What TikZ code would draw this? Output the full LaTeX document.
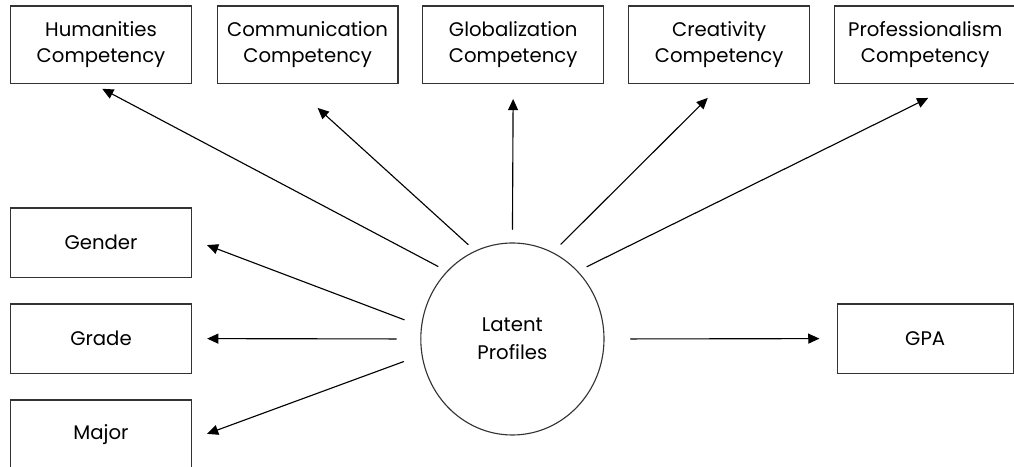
\documentclass[tikz,border=0pt]{standalone}
\usepackage{fontspec}
\setmainfont{Poppins}
\usetikzlibrary{arrows.meta,shapes.geometric}

\begin{document}
\begin{tikzpicture}[>={Triangle[length=2.8mm,width=2.5mm]},line cap=round,
  font=\fontsize{14}{19}\selectfont,
  box/.style={draw=black!80,line width=0.8pt,minimum width=4.52cm,minimum height=1.93cm,align=center,inner sep=0pt},
  side/.style={box,minimum height=1.73cm},
  link/.style={->,line width=0.8pt}]
\useasboundingbox (0,0) rectangle (25.35,11.675);
\node[box] (hum) at (2.525,10.56) {Humanities\\Competency};
\node[box] (comm) at (7.69,10.56) {Communication\\Competency};
\node[box] (glob) at (12.83,10.56) {Globalization\\Competency};
\node[box] (crea) at (17.98,10.56) {Creativity\\Competency};
\node[box] (prof) at (23.13,10.56) {Professionalism\\Competency};
\node[side] (gender) at (2.525,5.61) {Gender};
\node[side] (grade) at (2.525,3.21) {Grade};
\node[side] (major) at (2.525,0.81) {Major};
\node[side,minimum width=4.4cm] (gpa) at (23.13,3.21) {GPA};
\node[ellipse,draw=black!80,line width=0.8pt,minimum width=4.58cm,minimum height=4.8cm,align=center,font=\fontsize{14}{20}\selectfont] (lp) at (12.81,3.2) {Latent\\Profiles};
\draw[link,shorten <=0.25cm,shorten >=0.27cm] (lp.134) -- (hum.258);
\draw[link,shorten <=0.23cm,shorten >=0.9cm] (lp.113) -- (comm.247);
\draw[link,shorten <=0.33cm,shorten >=0.38cm] (lp.90) -- (glob.south);
\draw[link,shorten <=0.28cm,shorten >=0.5cm] (lp.65) -- (crea.274);
\draw[link,shorten <=0.25cm,shorten >=0.8cm] (lp.46) -- (prof.309);
\draw[link,shorten <=0.45cm,shorten >=0.4cm] (lp.172) -- (gender.2);
\draw[link,shorten <=0.6cm,shorten >=0.38cm] (lp.180) -- (grade.east);
\draw[link,shorten <=0.48cm,shorten >=0.4cm] (lp.190) -- (major.357);
\draw[link,shorten <=0.65cm,shorten >=0.43cm] (lp.0) -- (gpa.west);
\end{tikzpicture}
\end{document}
